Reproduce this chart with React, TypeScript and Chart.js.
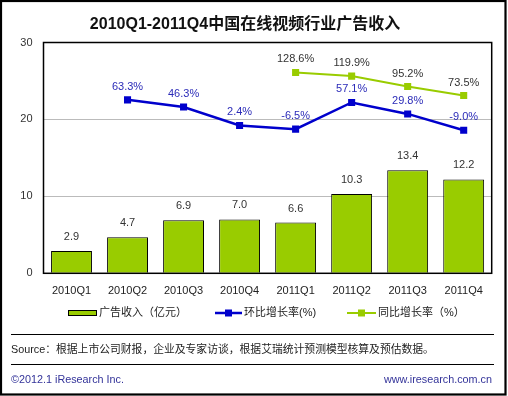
import React, { useEffect, useRef } from "react";
import { Chart, registerables } from "chart.js";

Chart.register(...registerables);

const categories = ["2010Q1", "2010Q2", "2010Q3", "2010Q4", "2011Q1", "2011Q2", "2011Q3", "2011Q4"];
const revenue = [2.9, 4.7, 6.9, 7.0, 6.6, 10.3, 13.4, 12.2];
const qoqGrowth = [null, 63.3, 46.3, 2.4, -6.5, 57.1, 29.8, -9.0];
const yoyGrowth = [null, null, null, null, 128.6, 119.9, 95.2, 73.5];
const yTicks = [0, 10, 20, 30];
const chartTitle = "2010Q1-2011Q4中国在线视频行业广告收入";
const legendLabels = ["广告收入（亿元）", "环比增长率(%)", "同比增长率（%）"];
const sourceText = "Source：根据上市公司财报，企业及专家访谈，根据艾瑞统计预测模型核算及预估数据。";
const copyrightText = "©2012.1 iResearch Inc.";
const websiteText = "www.iresearch.com.cn";

const FONT = '"Liberation Sans", "Noto Sans CJK SC", sans-serif';
const GREEN = "#99CC00";
const BLUE = "#0000CC";

const decorPlugin = {
  id: "decor",
  afterDatasetsDraw(chart: any) {
    const ctx = chart.ctx;
    const area = chart.chartArea;
    ctx.save();
    // plot frame
    ctx.strokeStyle = "#000";
    ctx.lineWidth = 1.5;
    ctx.strokeRect(area.left, area.top, area.right - area.left, area.bottom - area.top);

    // data labels
    ctx.textAlign = "center";
    ctx.textBaseline = "middle";
    ctx.font = `11px ${FONT}`;
    const barMeta = chart.getDatasetMeta(0);
    barMeta.data.forEach((el: any, i: number) => {
      ctx.fillStyle = "#333";
      ctx.fillText(revenue[i].toFixed(1), el.x, el.y - 14);
    });
    const qMeta = chart.getDatasetMeta(1);
    qMeta.data.forEach((el: any, i: number) => {
      const v = qoqGrowth[i];
      if (v === null) return;
      ctx.fillStyle = "#2B2BB8";
      ctx.fillText(v.toFixed(1) + "%", el.x, el.y - 13);
    });
    const yMeta = chart.getDatasetMeta(2);
    yMeta.data.forEach((el: any, i: number) => {
      const v = yoyGrowth[i];
      if (v === null) return;
      ctx.fillStyle = "#333";
      ctx.fillText(v.toFixed(1) + "%", el.x, el.y - 13);
    });
    ctx.restore();
  },
  afterDraw(chart: any) {
    const ctx = chart.ctx;
    ctx.save();
    // outer border
    ctx.strokeStyle = "#000";
    ctx.lineWidth = 2.2;
    ctx.strokeRect(1, 1, 504.5, 393.5);

    // title
    ctx.fillStyle = "#111";
    ctx.font = `bold 16px ${FONT}`;
    ctx.textAlign = "center";
    ctx.textBaseline = "middle";
    ctx.fillText(chartTitle, 245, 25);

    // legend
    const ly = 313;
    ctx.font = `11px ${FONT}`;
    ctx.textAlign = "left";
    ctx.textBaseline = "middle";
    ctx.fillStyle = GREEN;
    ctx.fillRect(68, ly - 3, 29, 6);
    ctx.strokeStyle = "#000";
    ctx.lineWidth = 1;
    ctx.strokeRect(68.5, ly - 2.5, 28, 5);
    ctx.fillStyle = "#222";
    ctx.fillText(legendLabels[0], 99, ly);

    ctx.strokeStyle = BLUE;
    ctx.lineWidth = 2.5;
    ctx.beginPath();
    ctx.moveTo(215, ly);
    ctx.lineTo(242, ly);
    ctx.stroke();
    ctx.fillStyle = BLUE;
    ctx.fillRect(225, ly - 3.5, 7, 7);
    ctx.fillStyle = "#222";
    ctx.fillText(legendLabels[1], 244, ly);

    ctx.strokeStyle = GREEN;
    ctx.lineWidth = 2;
    ctx.beginPath();
    ctx.moveTo(347, ly);
    ctx.lineTo(376, ly);
    ctx.stroke();
    ctx.fillStyle = GREEN;
    ctx.fillRect(358, ly - 3.5, 7, 7);
    ctx.fillStyle = "#222";
    ctx.fillText(legendLabels[2], 378, ly);

    // footer
    ctx.strokeStyle = "#000";
    ctx.lineWidth = 1.2;
    ctx.beginPath();
    ctx.moveTo(11, 334.5);
    ctx.lineTo(494, 334.5);
    ctx.moveTo(11, 364.5);
    ctx.lineTo(494, 364.5);
    ctx.stroke();
    ctx.font = `10.8px ${FONT}`;
    ctx.fillStyle = "#222";
    ctx.fillText(sourceText, 11, 350.5);
    ctx.fillStyle = "#333399";
    ctx.fillText(copyrightText, 11, 380);
    ctx.textAlign = "right";
    ctx.fillText(websiteText, 492, 380);
    ctx.restore();
  },
};

export default function App() {
  const canvasRef = useRef<HTMLCanvasElement | null>(null);

  useEffect(() => {
    if (!canvasRef.current) return;
    const chart = new Chart(canvasRef.current, {
      type: "bar",
      data: {
        labels: categories,
        datasets: [
          {
            type: "bar",
            label: legendLabels[0],
            data: revenue,
            backgroundColor: GREEN,
            borderColor: "#000",
            borderWidth: 1,
            categoryPercentage: 1,
            barPercentage: 0.73,
            yAxisID: "y",
            order: 2,
          },
          {
            type: "line",
            label: legendLabels[1],
            data: qoqGrowth,
            borderColor: BLUE,
            backgroundColor: BLUE,
            borderWidth: 2.5,
            pointStyle: "rect",
            pointRadius: 5,
            pointBorderWidth: 0,
            spanGaps: false,
            yAxisID: "y2",
            order: 1,
          },
          {
            type: "line",
            label: legendLabels[2],
            data: yoyGrowth,
            borderColor: GREEN,
            backgroundColor: GREEN,
            borderWidth: 2,
            pointStyle: "rect",
            pointRadius: 5,
            pointBorderWidth: 0,
            yAxisID: "y2",
            order: 0,
          },
        ] as any,
      },
      options: {
        responsive: false,
        animation: false,
        layout: { padding: { top: 42.5, right: 16.3, left: 0, bottom: 0 } },
        plugins: {
          legend: { display: false },
          title: { display: false },
          tooltip: { enabled: false },
        },
        scales: {
          x: {
            grid: { display: false, drawTicks: false },
            border: { display: false },
            ticks: { padding: 11, color: "#222", font: { family: FONT, size: 11 } },
            afterFit: (s: any) => {
              s.height = 122.7;
            },
          },
          y: {
            min: 0,
            max: 30,
            afterBuildTicks: (s: any) => {
              s.ticks = yTicks.map((v) => ({ value: v }));
            },
            ticks: { padding: 11, color: "#333", font: { family: FONT, size: 11 } },
            grid: {
              drawTicks: false,
              color: (c: any) => (c.tick && (c.tick.value === 10 || c.tick.value === 20) ? "#BBBBBB" : "rgba(0,0,0,0)"),
              lineWidth: 1,
            },
            border: { display: false },
            afterFit: (s: any) => {
              s.width = 43.5;
            },
          },
          y2: {
            display: false,
            position: "right",
            min: -350,
            max: 200,
          },
        },
      } as any,
      plugins: [decorPlugin],
    });
    return () => chart.destroy();
  }, []);

  return (
    <div style={{ position: "fixed", left: 0, top: 0, width: 508, height: 396, background: "#fff" }}>
      <canvas ref={canvasRef} width={508} height={396} style={{ width: 508, height: 396, display: "block" }} />
    </div>
  );
}
